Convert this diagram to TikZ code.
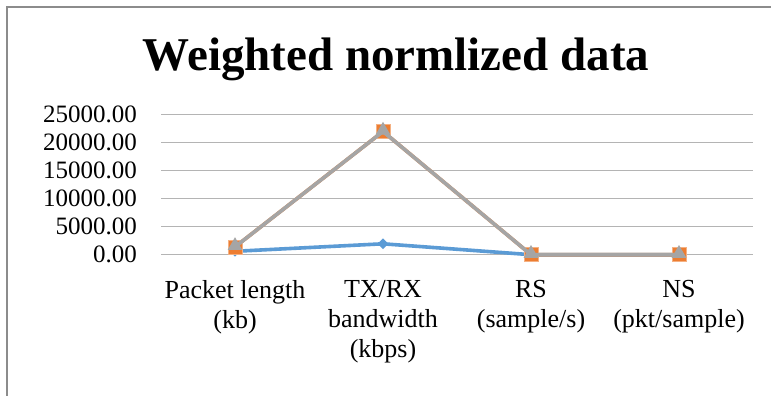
\documentclass[tikz,border=0pt]{standalone}
\usepackage{fontspec}
\setmainfont{Liberation Serif}
\usetikzlibrary{shapes.geometric}

\definecolor{frameclr}{HTML}{8C8C8C}
\definecolor{gridclr}{HTML}{B4B4B4}
\definecolor{serA}{HTML}{5B9BD5}
\definecolor{serB}{HTML}{ED7D31}
\definecolor{serC}{HTML}{A5A5A5}

\tikzset{
  frameline/.style={draw=frameclr, line width=2pt},
  gridline/.style={draw=gridclr, line width=1.5pt},
  ticklabel/.style={anchor=east, inner sep=0pt, font=\fontsize{25}{28}\selectfont},
  catlabel/.style={align=center, inner sep=0pt, font=\fontsize{26}{30}\selectfont},
  seriesline/.style={line width=3.6pt, line join=round},
  diamondmark/.style={diamond, fill=serA, inner sep=0pt, minimum size=11pt},
  squaremark/.style={rectangle, fill=serB, draw=serB!60!white, line width=0.6pt, inner sep=0pt, minimum size=14pt},
  trianglemark/.style={regular polygon, regular polygon sides=3, fill=serC, inner sep=0pt, minimum size=17pt, yshift=1.2pt},
}

\begin{document}
\begin{tikzpicture}[x=1pt, y=-1pt]
  \useasboundingbox (0,0) rectangle (771,396);
  \fill[white] (0,0) rectangle (771,396);

  % chart area frame (left and top edges)
  \draw[frameline] (7,396) -- (7,7) -- (771,7);

  % title
  \node[font=\bfseries\fontsize{47}{56}\selectfont, inner sep=0pt] (title) at (396,59) {Weighted normlized data};

  % horizontal grid and value labels, 28pt per 5000
  \foreach \v/\lab in {0/0.00, 1/5000.00, 2/10000.00, 3/15000.00, 4/20000.00, 5/25000.00} {
    \draw[gridline] (161,{254.7-28*\v}) -- (753,{254.7-28*\v});
    \node[ticklabel] (tick\v) at (137,{254.7-28*\v}) {\lab};
  }

  % category labels
  \node[catlabel, anchor=north] (catA) at (235,280) {Packet length\\(kb)};
  \node[catlabel, anchor=north] (catB) at (383,280) {TX/RX\\bandwidth\\(kbps)};
  \node[catlabel, anchor=north] (catC) at (531,280) {RS\\(sample/s)};
  \node[catlabel, anchor=north] (catD) at (679,280) {NS\\(pkt/sample)};

  % data points (y = 254.7 - value*28/5000)
  \coordinate (a1) at (235,251.3);
  \coordinate (a2) at (383,243.8);
  \coordinate (a3) at (531,254.7);
  \coordinate (a4) at (679,254.7);

  \coordinate (b1) at (235,246.9);
  \coordinate (b2) at (383,131.5);
  \coordinate (b3) at (531,254.7);
  \coordinate (b4) at (679,254.7);

  % first series
  \draw[seriesline, serA] (a1) -- (a2) -- (a3) -- (a4);
  \foreach \p in {a1,a2,a3,a4} \node[diamondmark] at (\p) {};

  % second series
  \draw[seriesline, serB] (b1) -- (b2) -- (b3) -- (b4);
  \foreach \p in {b1,b2,b3,b4} \node[squaremark] at (\p) {};

  % third series (same values as the second)
  \draw[seriesline, serC] (b1) -- (b2) -- (b3) -- (b4);
  \foreach \p in {b1,b2,b3,b4} \node[trianglemark] at (\p) {};
\end{tikzpicture}
\end{document}
